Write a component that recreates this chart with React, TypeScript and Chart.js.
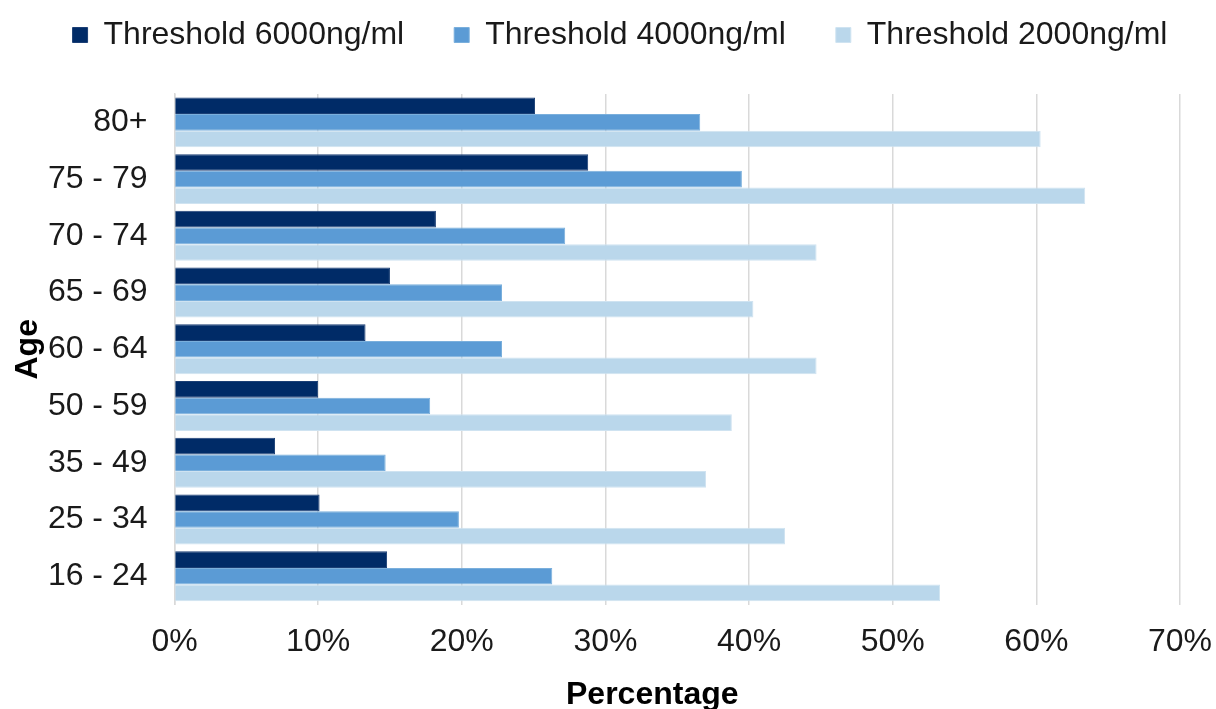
import React, { useEffect, useRef } from "react";
import { Chart, registerables } from "chart.js";

Chart.register(...registerables);

const categories = ["80+", "75 - 79", "70 - 74", "65 - 69", "60 - 64", "50 - 59", "35 - 49", "25 - 34", "16 - 24"];
const seriesNames = ["Threshold 6000ng/ml", "Threshold 4000ng/ml", "Threshold 2000ng/ml"];
const threshold6000 = [25.1, 28.8, 18.2, 15.0, 13.3, 10.0, 7.0, 10.1, 14.8];
const threshold4000 = [36.6, 39.5, 27.2, 22.8, 22.8, 17.8, 14.7, 19.8, 26.3];
const threshold2000 = [60.3, 63.4, 44.7, 40.3, 44.7, 38.8, 37.0, 42.5, 53.3];
const xTicks = [0, 10, 20, 30, 40, 50, 60, 70];
const colors = ["#002b67", "#5b9bd5", "#bad7eb"];
const borders = ["#1b3f75", "#7aafdc", "#cfe3f1"];

const layoutTweaks = {
  id: "layoutTweaks",
  beforeInit(chart: any) {
    const legend = chart.legend;
    if (!legend) return;
    const origFit = legend.fit;
    legend.fit = function () {
      const mw = this.maxWidth;
      this.maxWidth = mw + 40;
      origFit.call(this);
      this.maxWidth = mw;
      this.width = Math.min(this.width, mw);
      this.height += 33;
    };
  },
  afterLayout(chart: any) {
    const legend = chart.legend;
    if (legend) {
      legend.left += 12;
      legend.right += 12;
    }
    const x = chart.scales.x;
    if (x && !x._titleShifted) {
      x._titleShifted = true;
      const origDrawTitle = x.drawTitle;
      x.drawTitle = function () {
        const l = this.left;
        this.left = l - 50;
        origDrawTitle.call(this);
        this.left = l;
      };
    }
  },
};

export default function App() {
  const ref = useRef<HTMLCanvasElement | null>(null);
  useEffect(() => {
    document.body.style.margin = "0";
    const font = "'Liberation Sans', Arial, sans-serif";
    const values = [threshold6000, threshold4000, threshold2000];
    const chart = new Chart(ref.current!, {
      type: "bar",
      data: {
        labels: categories,
        datasets: seriesNames.map((name, i) => ({
          label: name,
          data: values[i],
          backgroundColor: colors[i],
          borderColor: borders[i],
          borderWidth: 1,
          barPercentage: 1,
          categoryPercentage: 0.88,
        })),
      },
      plugins: [layoutTweaks],
      options: {
        indexAxis: "y",
        animation: false,
        responsive: false,
        maintainAspectRatio: false,
        layout: { padding: { top: -31, right: 0, left: 0, bottom: 0 } },
        plugins: {
          tooltip: { enabled: false },
          legend: {
            position: "top",
            labels: {
              font: { family: font, size: 32 },
              color: "#1a1a1a",
              boxWidth: 15,
              boxHeight: 15,
              padding: 50,
            },
          },
        },
        scales: {
          x: {
            min: 0,
            max: 70,
            afterBuildTicks: (axis: any) => {
              axis.ticks = xTicks.map((v) => ({ value: v }));
            },
            afterFit: (scale: any) => {
              scale.paddingRight = 36;
              scale.paddingLeft = 0;
            },
            ticks: {
              callback: (v: any) => v + "%",
              font: { family: font, size: 32 },
              color: "#1a1a1a",
              padding: 18,
            },
            grid: { color: "#d9d9d9", lineWidth: 1.5, drawTicks: false, tickLength: 0 },
            border: { display: false },
            title: {
              display: true,
              text: "Percentage",
              font: { family: font, size: 32, weight: "bold", lineHeight: 1 },
              color: "#000",
              padding: { top: 0, bottom: -2 },
            },
          },
          y: {
            afterFit: (scale: any) => {
              scale.width = 174.5;
            },
            ticks: {
              font: { family: font, size: 32 },
              color: "#1a1a1a",
              padding: 27,
            },
            grid: { display: false, drawTicks: false },
            border: { display: true, color: "#d9d9d9", width: 1.5 },
            title: {
              display: true,
              text: "Age",
              font: { family: font, size: 32, weight: "bold", lineHeight: 1 },
              color: "#000",
              padding: { top: 12, bottom: 4 },
            },
          },
        },
      },
    });
    return () => chart.destroy();
  }, []);
  return (
    <div style={{ width: 1216, height: 709 }}>
      <canvas ref={ref} width={1216} height={709} style={{ width: 1216, height: 709 }} />
    </div>
  );
}
